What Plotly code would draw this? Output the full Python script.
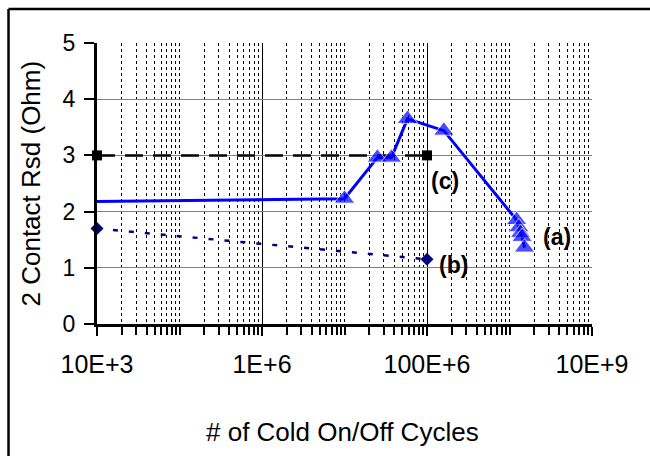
import math
import plotly.graph_objects as go

# ---- data ----
cycles_a = [1e4, 1.0e7, 2.5e7, 3.7e7, 5.8e7, 1.6e8, 1.22e9, 1.3e9, 1.36e9, 1.42e9, 1.52e9]
rsd_a = [2.18, 2.23, 2.96, 2.96, 3.65, 3.44, 1.85, 1.72, 1.62, 1.55, 1.36]
marker_a = [False, True, True, True, True, True, True, True, True, True, True]

cycles_b = [1e4, 1e8]
rsd_b = [1.70, 1.15]

cycles_c = [1e4, 1e8]
rsd_c = [3.0, 3.0]

x_tickvals = [1e4, 1e6, 1e8, 1e10]
x_ticktext = ["10E+3", "1E+6", "100E+6", "10E+9"]

labels = ["(a)", "(b)", "(c)"]
label_x = [10**9.58, 10**8.327, 10**8.218]
label_y = [1.55, 1.05, 2.55]

FONT = "Liberation Sans, Arial, sans-serif"

fig = go.Figure()

# (c) black dashed with squares
fig.add_trace(go.Scatter(
    x=cycles_c, y=rsd_c, mode="lines+markers",
    line=dict(color="black", width=2.5, dash="18px,10px"),
    marker=dict(symbol="square", size=10, color="black"),
    cliponaxis=False,
))

# (b) navy dotted with diamonds
fig.add_trace(go.Scatter(
    x=cycles_b, y=rsd_b, mode="lines+markers",
    line=dict(color="#000080", width=2.5, dash="5px,11px"),
    marker=dict(symbol="diamond", size=10, color="#000080"),
    cliponaxis=False,
))

# (a) blue solid with triangles
fig.add_trace(go.Scatter(
    x=cycles_a, y=rsd_a, mode="lines+markers",
    line=dict(color="#0000FF", width=3),
    marker=dict(symbol="triangle-up", size=[0 if not m else 18 for m in marker_a],
                color="#0000FF"),
    cliponaxis=False,
))

# log axes: annotation x is given in log10 units
for t, xv, yv in zip(labels, label_x, label_y):
    fig.add_annotation(x=math.log10(xv), y=yv, xref="x", yref="y", text=f"<b>{t}</b>",
                       showarrow=False, font=dict(family=FONT, size=23, color="black"),
                       xanchor="center", yanchor="middle")

# axis titles
fig.add_annotation(x=(342 - 97) / 495, y=(324 - 432) / 281, xref="paper", yref="paper",
                   text="# of Cold On/Off Cycles", showarrow=False,
                   font=dict(family=FONT, size=26, color="black"),
                   xanchor="center", yanchor="middle")
fig.add_annotation(x=(30 - 97) / 495, y=0.5, xref="paper", yref="paper",
                   text="2 Contact Rsd (Ohm)", showarrow=False, textangle=-90,
                   font=dict(family=FONT, size=26, color="black"),
                   xanchor="center", yanchor="middle")

# outer frame (top and left edges)
fig.add_shape(type="line", xref="paper", yref="paper",
              x0=(8.5 - 97) / 495, x1=(652 - 97) / 495,
              y0=(324 - 9) / 281, y1=(324 - 9) / 281,
              line=dict(color="black", width=2.5))
fig.add_shape(type="line", xref="paper", yref="paper",
              x0=(8.5 - 97) / 495, x1=(8.5 - 97) / 495,
              y0=(324 - 9) / 281, y1=(324 - 460) / 281,
              line=dict(color="black", width=2.5))

fig.update_layout(
    width=650, height=456,
    margin=dict(l=97, r=58, t=43, b=132),
    paper_bgcolor="white", plot_bgcolor="white",
    showlegend=False,
    font=dict(family=FONT, color="black"),
)

fig.update_xaxes(
    type="log", range=[4, 10],
    tickmode="array", tickvals=x_tickvals, ticktext=x_ticktext,
    tickfont=dict(family=FONT, size=25, color="black"),
    ticklabelstandoff=7,
    showline=True, linecolor="black", linewidth=3,
    ticks="outside", ticklen=9, tickwidth=2, tickcolor="black",
    showgrid=True, gridcolor="black", gridwidth=1,
    minor=dict(dtick="D1", ticks="outside", ticklen=8, tickwidth=2, tickcolor="black",
               showgrid=True, gridcolor="black", gridwidth=1, griddash="dot"),
    zeroline=False,
    automargin=False,
)

fig.update_yaxes(
    range=[0, 5], dtick=1, tick0=0,
    tickfont=dict(family=FONT, size=23, color="black"),
    ticklabelstandoff=4,
    showline=True, linecolor="black", linewidth=3,
    ticks="outside", ticklen=10, tickwidth=2, tickcolor="black",
    showgrid=True, gridcolor="#808080", gridwidth=1,
    zeroline=False,
    automargin=False,
)

fig.write_html("out.html")
